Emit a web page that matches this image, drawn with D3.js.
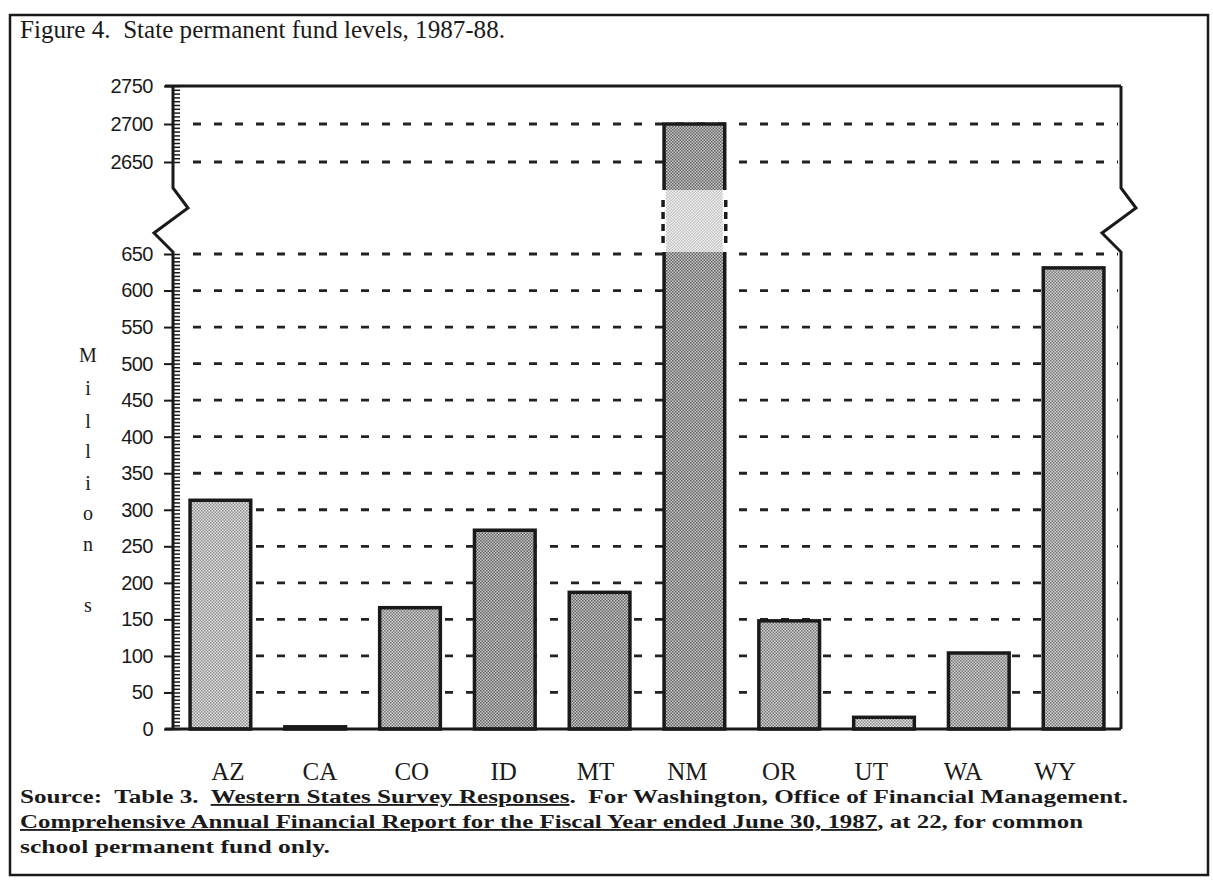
<!DOCTYPE html>
<html>
<head>
<meta charset="utf-8">
<script src="https://cdn.jsdelivr.net/npm/d3@7"></script>
<style>
  body { margin: 0; background: #fff; }
  text { white-space: pre; }
</style>
</head>
<body>
<div id="chart"></div>
<script>
// data (millions of dollars)
const states = ["AZ", "CA", "CO", "ID", "MT", "NM", "OR", "UT", "WA", "WY"];
const fundMillions = [313, 3, 166, 272, 187, 2700, 148, 16, 104, 631];
const lowerTicks = [0, 50, 100, 150, 200, 250, 300, 350, 400, 450, 500, 550, 600, 650];
const upperTicks = [2650, 2700, 2750];
const yTitleLetters = ["M", "i", "l", "l", "i", "o", "n", "s"];

const titleText = "Figure 4.  State permanent fund levels, 1987-88.";
const sourceLines = [
  [["Source:  Table 3.  ", false], ["Western States Survey Responses", true], [".  For Washington, Office of Financial Management.", false]],
  [["Comprehensive Annual Financial Report for the Fiscal Year ended June 30, 1987", true], [", at 22, for common", false]],
  [["school permanent fund only.", false]]
];

// shade of each bar in the scan
const tone = { AZ: "light", CA: "light", CO: "mid", ID: "dark", MT: "dark", NM: "dark", OR: "mid", UT: "light", WA: "mid", WY: "mid" };

const W = 1213, H = 883;
const serif = "'Liberation Serif', 'Times New Roman', serif";
const ink = "#1a1a1a";

const svg = d3.select("#chart").append("svg")
  .attr("width", W)
  .attr("height", H)
  .attr("viewBox", [0, 0, W, H]);

// halftone patterns
const defs = svg.append("defs");
function halftone(id, a, b) {
  const p = defs.append("pattern")
    .attr("id", id)
    .attr("width", 3).attr("height", 3)
    .attr("patternUnits", "userSpaceOnUse");
  p.append("rect").attr("width", 3).attr("height", 3).attr("fill", a);
  p.append("rect").attr("x", 0).attr("y", 0).attr("width", 1.5).attr("height", 1.5).attr("fill", b);
  p.append("rect").attr("x", 1.5).attr("y", 1.5).attr("width", 1.5).attr("height", 1.5).attr("fill", b);
}
halftone("light", "#dedede", "#939393");
halftone("mid", "#d2d2d2", "#767676");
halftone("dark", "#cacaca", "#626262");
halftone("faded", "#f0f0f0", "#c2c2c2");

// outer frame
svg.append("rect")
  .attr("x", 10).attr("y", 15)
  .attr("width", 1198).attr("height", 860)
  .attr("fill", "none")
  .attr("stroke", ink)
  .attr("stroke-width", 2.5);

svg.append("text")
  .attr("x", 20).attr("y", 38)
  .attr("font-family", serif)
  .attr("font-size", 25.5)
  .attr("fill", ink)
  .attr("textLength", 485)
  .attr("lengthAdjust", "spacingAndGlyphs")
  .text(titleText);

// scales: broken y axis, two linear pieces
const left = 173, right = 1121;
const yLow = d3.scaleLinear().domain([0, 650]).range([729, 254]);
const yHigh = d3.scaleLinear().domain([2650, 2750]).range([162, 86]);
const breakTop = 190, breakBottom = 252;
const yOf = v => v > 650 ? yHigh(v) : yLow(v);

const x = d3.scaleBand()
  .domain(states)
  .range([left, right])
  .paddingInner(0.36)
  .paddingOuter(0.18);

const xLabel = d3.scaleBand().domain(states).range([182, 1101]);

// dashed gridlines
const gridVals = lowerTicks.filter(v => v > 0).concat(upperTicks.filter(v => v < 2750));
svg.append("g")
  .selectAll("line")
  .data(gridVals)
  .join("line")
  .attr("x1", left + 20)
  .attr("x2", right - 3)
  .attr("y1", d => yOf(d))
  .attr("y2", d => yOf(d))
  .attr("stroke", "#222")
  .attr("stroke-width", 2.8)
  .attr("stroke-dasharray", "8 13");

// bars
const bars = svg.append("g");
states.forEach((s, i) => {
  const v = fundMillions[i];
  bars.append("rect")
    .attr("x", x(s))
    .attr("y", yOf(v))
    .attr("width", x.bandwidth())
    .attr("height", yLow(0) - yOf(v))
    .attr("fill", `url(#${tone[s]})`)
    .attr("stroke", ink)
    .attr("stroke-width", 3.5);

  if (v > 650) {
    // faded piece of the bar across the axis break
    bars.append("rect")
      .attr("x", x(s) - 3)
      .attr("y", breakTop)
      .attr("width", x.bandwidth() + 6)
      .attr("height", breakBottom - breakTop)
      .attr("fill", "#fff");
    bars.append("rect")
      .attr("x", x(s) + 2)
      .attr("y", breakTop)
      .attr("width", x.bandwidth() - 4)
      .attr("height", breakBottom - breakTop)
      .attr("fill", "url(#faded)");
    [x(s) - 1, x(s) + x.bandwidth() + 1].forEach(px => {
      bars.append("line")
        .attr("x1", px).attr("x2", px)
        .attr("y1", breakTop + 10).attr("y2", breakBottom - 4)
        .attr("stroke", ink)
        .attr("stroke-width", 3.5)
        .attr("stroke-dasharray", "7 5");
    });
  }
});

// axis frame with break zigzags
const frame = svg.append("g")
  .attr("fill", "none")
  .attr("stroke", ink)
  .attr("stroke-width", 3);

function sideWithBreak(px) {
  return d3.line()([
    [px, yHigh(2750)],
    [px, breakTop - 2],
    [px + 15, breakTop + 18],
    [px - 19, breakTop + 43],
    [px, breakBottom],
    [px, yLow(0)]
  ]);
}
frame.append("path").attr("d", sideWithBreak(left));
frame.append("path").attr("d", sideWithBreak(right));
frame.append("line").attr("x1", left - 8).attr("x2", right).attr("y1", yHigh(2750)).attr("y2", yHigh(2750));
frame.append("line").attr("x1", left - 8).attr("x2", right).attr("y1", yLow(0)).attr("y2", yLow(0));

// minor ticks (every 5) inside the axis
function minorTicks(scale, from, to) {
  svg.append("g")
    .attr("transform", `translate(${left},0)`)
    .call(d3.axisRight(scale).tickValues(d3.range(from, to + 1, 5)).tickSize(7).tickFormat(""))
    .call(g => g.select(".domain").remove())
    .call(g => g.selectAll("line").attr("stroke", ink).attr("stroke-width", 1.5));
}
minorTicks(yLow, 0, 650);
minorTicks(yHigh, 2650, 2750);

// major ticks with labels
function majorTicks(scale, vals) {
  svg.append("g")
    .attr("transform", `translate(${left},0)`)
    .call(d3.axisLeft(scale).tickValues(vals).tickSize(9).tickPadding(11).tickFormat(d3.format("d")))
    .call(g => g.select(".domain").remove())
    .call(g => g.selectAll("line").attr("stroke", ink).attr("stroke-width", 2))
    .call(g => g.selectAll("text")
      .attr("font-family", "'Liberation Sans', Arial, sans-serif")
      .attr("font-size", 20)
      .attr("letter-spacing", -0.5)
      .attr("fill", ink));
}
majorTicks(yLow, lowerTicks);
majorTicks(yHigh, upperTicks);

// y title, one letter per line
const letterY = [355, 388, 421, 451, 483, 513, 544, 605];
svg.append("g")
  .selectAll("text")
  .data(yTitleLetters)
  .join("text")
  .attr("x", 88)
  .attr("y", (d, i) => letterY[i])
  .attr("text-anchor", "middle")
  .attr("dominant-baseline", "central")
  .attr("font-family", serif)
  .attr("font-size", 20)
  .attr("fill", ink)
  .text(d => d);

// category labels
svg.append("g")
  .selectAll("text")
  .data(states)
  .join("text")
  .attr("x", d => xLabel(d) + xLabel.bandwidth() / 2)
  .attr("y", 780)
  .attr("text-anchor", "middle")
  .attr("font-family", serif)
  .attr("font-size", 25)
  .attr("fill", ink)
  .text(d => d);

// source note
const lineY = [803, 828, 853];
const lineLen = [1108, 1063, 310];
sourceLines.forEach((parts, i) => {
  const t = svg.append("text")
    .attr("x", 20)
    .attr("y", lineY[i])
    .attr("font-family", serif)
    .attr("font-size", 18.5)
    .attr("font-weight", "bold")
    .attr("fill", ink)
    .attr("textLength", lineLen[i])
    .attr("lengthAdjust", "spacingAndGlyphs");
  parts.forEach(([str, under]) => {
    t.append("tspan")
      .attr("text-decoration", under ? "underline" : null)
      .text(str);
  });
});
</script>
</body>
</html>
